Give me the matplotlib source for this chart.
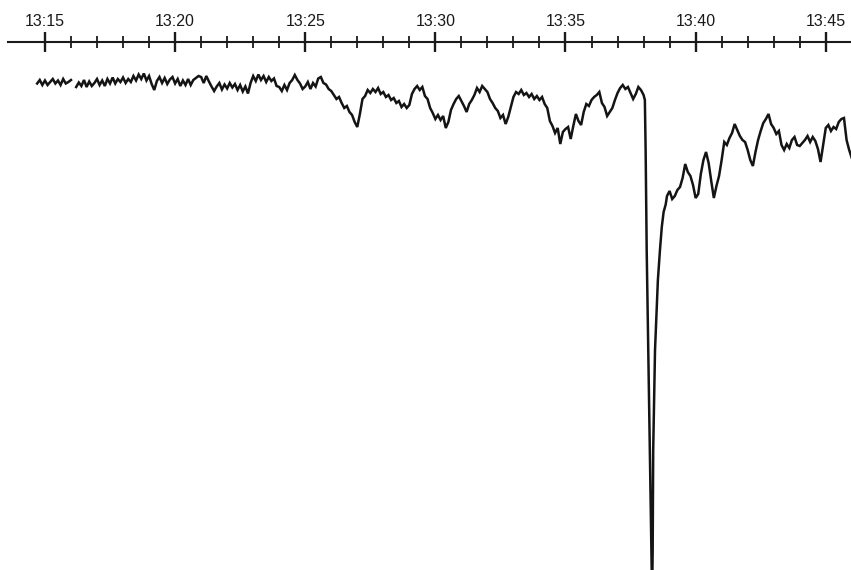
import numpy as np
import matplotlib
matplotlib.use("Agg")
import matplotlib.pyplot as plt

nan = np.nan

# Time axis: minutes after 13:00
major_minutes = [15, 20, 25, 30, 35, 40, 45]
major_labels = ["13:15", "13:20", "13:25", "13:30", "13:35", "13:40", "13:45"]
minor_minutes = [16, 17, 18, 19, 21, 22, 23, 24, 26, 27, 28, 29, 31, 32, 33, 34,
                 36, 37, 38, 39, 41, 42, 43, 44]

# Recorder deflection (arbitrary units, downward), sampled every 0.1 min.
tenths = [0.0, 0.1, 0.2, 0.3, 0.4, 0.5, 0.6, 0.7, 0.8, 0.9]

pre_minutes = list(range(14, 38))
pre_deflection = [
    [nan, nan, nan, nan, nan, nan, nan, 8.3, 7.6, 8.6],
    [7.7, 8.6, 8.0, 7.4, 8.3, 7.7, 8.6, 7.4, 8.3, 8.0],
    [7.6, nan, 9.0, 8.1, 8.8, 7.6, 9.0, 7.9, 8.8, 8.2],
    [7.4, 8.6, 7.7, 8.8, 7.4, 8.3, 7.1, 8.3, 7.4, 8.0],
    [7.1, 8.2, 7.4, 8.0, 6.8, 7.7, 6.5, 7.4, 6.3, 7.7],
    [6.8, 8.4, 9.6, 7.8, 7.0, 8.2, 7.2, 8.4, 7.5, 7.0],
    [8.3, 7.4, 8.8, 7.7, 8.6, 7.4, 8.6, 7.6, 7.2, 6.8],
    [7.0, 8.2, 6.8, 7.9, 8.9, 9.8, 8.9, 8.2, 9.5, 8.5],
    [9.3, 8.2, 9.1, 8.4, 9.6, 8.6, 9.9, 8.9, 10.3, 8.2],
    [6.8, 7.8, 6.5, 7.6, 6.8, 8.0, 7.0, 7.8, 7.3, 8.8],
    [9.0, 9.8, 8.6, 9.6, 8.2, 7.6, 6.6, 7.6, 8.3, 9.4],
    [8.9, 8.0, 9.4, 8.2, 8.9, 7.3, 7.0, 8.2, 8.5, 9.4],
    [9.8, 10.6, 11.4, 11.0, 12.2, 13.2, 12.8, 14.0, 14.6, 16.0],
    [17.0, 14.4, 11.4, 10.8, 9.6, 10.2, 9.4, 10.0, 9.2, 10.4],
    [10.0, 11.0, 10.6, 11.6, 11.2, 12.2, 11.8, 13.0, 12.4, 13.2],
    [12.6, 10.4, 9.4, 8.8, 9.6, 9.0, 10.8, 11.4, 13.2, 14.2],
    [15.4, 14.6, 15.6, 14.8, 17.2, 16.0, 13.6, 12.4, 11.4, 10.8],
    [11.8, 12.8, 14.0, 12.4, 11.6, 10.6, 9.2, 10.0, 8.8, 9.4],
    [10.0, 11.4, 12.2, 13.2, 13.8, 15.2, 14.6, 16.4, 15.0, 13.0],
    [11.0, 10.0, 10.4, 9.6, 10.6, 10.2, 11.0, 10.4, 11.4, 10.8],
    [11.6, 11.0, 12.4, 13.2, 15.8, 16.8, 18.2, 17.2, 20.4, 18.0],
    [17.4, 17.0, 19.4, 16.8, 14.4, 15.8, 16.6, 14.0, 12.4, 12.8],
    [11.6, 11.0, 10.6, 10.0, 12.2, 13.0, 14.8, 14.0, 13.2, 11.6],
    [10.2, 9.2, 8.6, 9.4, 9.0, 10.2, 11.4, 10.4, 9.0, 9.6],
]

# Sharp event around 13:38
event_minutes = [38.0, 38.05, 38.08, 38.12, 38.18, 38.24, 38.31, 38.33, 38.35,
                 38.37, 38.44, 38.55, 38.63, 38.70, 38.77, 38.85, 38.9]
event_deflection = [10.6, 11.6, 22.0, 41.6, 61.6, 81.6, 105.0, 110.0, 101.6,
                    81.6, 61.6, 47.6, 41.6, 37.0, 34.0, 32.5, 30.8]

post_minutes = list(range(39, 47))
post_deflection = [
    [29.8, 31.4, 30.8, 29.6, 29.0, 27.2, 24.4, 26.0, 26.8, 28.6],
    [31.2, 30.4, 26.4, 23.6, 22.0, 24.2, 27.8, 31.2, 28.8, 26.8],
    [23.6, 20.0, 20.6, 19.2, 18.2, 16.4, 17.6, 18.8, 19.6, 20.0],
    [21.6, 23.6, 24.8, 22.0, 19.6, 17.8, 16.2, 15.4, 14.4, 16.4],
    [17.2, 18.4, 17.8, 20.6, 21.6, 20.4, 21.2, 19.6, 19.0, 20.6],
    [20.8, 20.2, 19.6, 18.8, 20.0, 19.0, 19.8, 21.4, 24.0, 20.6],
    [17.2, 16.6, 17.8, 17.0, 17.4, 16.0, 15.4, 15.2, 19.6, 21.6],
    [23.2, nan, nan, nan, nan, nan, nan, nan, nan, nan],
]


def flatten(minutes, rows):
    t, d = [], []
    for m, row in zip(minutes, rows):
        for f, v in zip(tenths, row):
            t.append(m + f)
            d.append(v)
    return t, d


t_pre, d_pre = flatten(pre_minutes, pre_deflection)
t_post, d_post = flatten(post_minutes, post_deflection)
t_all = np.array(t_pre + event_minutes + t_post)
d_all = np.array(d_pre + event_deflection + d_post)

W, H = 851, 570
fig = plt.figure(figsize=(W / 100, H / 100), dpi=100)
fig.patch.set_facecolor("white")
ax = fig.add_axes([8 / W, 0, 1 - 8 / W, 1 - 42 / H])
ax.set_facecolor("white")

ax.plot(t_all, d_all, color="#141414", lw=1.8, solid_joinstyle="miter")

ax.set_xlim(13.58, 45.97)
ax.set_ylim(105.6, 0)

for s in ["left", "right", "bottom"]:
    ax.spines[s].set_visible(False)
ax.spines["top"].set_linewidth(1.5)
ax.spines["top"].set_color("#1a1a1a")

ax.set_yticks([])
ax.xaxis.tick_top()
ax.set_xticks(major_minutes)
ax.set_xticklabels(major_labels, fontfamily="Liberation Sans", fontsize=11.5,
                   color="#1a1a1a")
ax.set_xticks(minor_minutes, minor=True)
ax.tick_params(axis="x", which="major", direction="inout", length=14, width=1.7,
               pad=2.5, color="#1a1a1a", top=True, bottom=False)
ax.tick_params(axis="x", which="minor", direction="inout", length=8.5, width=1.3,
               color="#1a1a1a", top=True, bottom=False)

fig.savefig("out.png", dpi=100, facecolor="white")
